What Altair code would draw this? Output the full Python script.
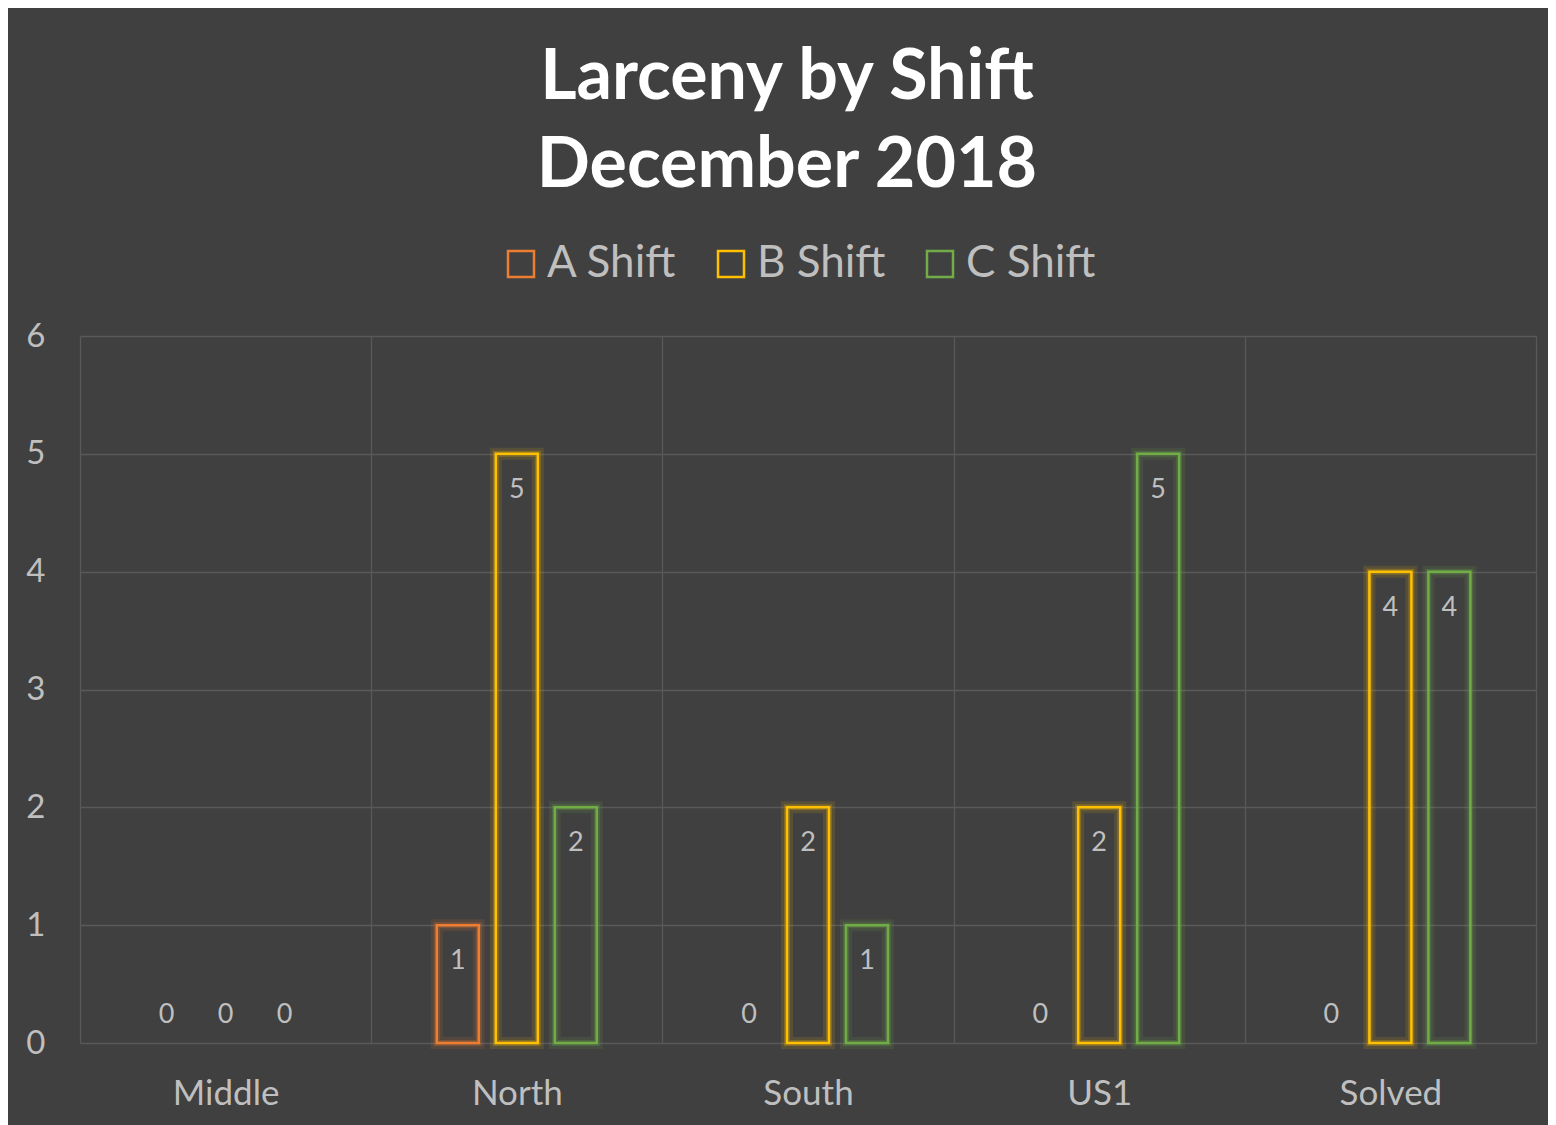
import altair as alt
import pandas as pd

categories = ["Middle", "North", "South", "US1", "Solved"]
shifts = ["A Shift", "B Shift", "C Shift"]
a_shift = [0, 1, 0, 0, 0]
b_shift = [0, 5, 2, 2, 4]
c_shift = [0, 2, 1, 5, 4]
colors = ["#ED7D31", "#FFC000", "#70AD47"]
y_ticks = [0, 1, 2, 3, 4, 5, 6]

rows = []
for s, vals in zip(shifts, [a_shift, b_shift, c_shift]):
    for c, v in zip(categories, vals):
        rows.append({"category": c, "shift": s, "value": v})
df = pd.DataFrame(rows)

FONT = "Lato"
TXT = "#bfbfbf"
GRID = "#595959"
BAR_W = 42

x_enc = alt.X("category:N", sort=categories, title=None,
              scale=alt.Scale(paddingInner=0, paddingOuter=0),
              axis=alt.Axis(labelAngle=0, labelFontSize=35, labelColor=TXT, labelFont=FONT,
                            labelPadding=33, ticks=False, domain=False, grid=True,
                            gridColor=GRID, gridWidth=1.3, tickBand="extent"))
xo_enc = alt.XOffset("shift:N", sort=shifts,
                     scale=alt.Scale(paddingInner=0.064, paddingOuter=1))
y_enc = alt.Y("value:Q", title=None,
              scale=alt.Scale(domain=[0, 6], nice=False),
              axis=alt.Axis(values=y_ticks, labelFontSize=33, labelColor=TXT, labelFont=FONT,
                            labelPadding=35, ticks=False, domain=False, grid=True,
                            gridColor=GRID, gridWidth=1.3))
legend = alt.Legend(orient="none", legendX=419, legendY=-94, title=None,
                    direction="horizontal", symbolType="square",
                    symbolSize=676, symbolStrokeWidth=2.5,
                    symbolFillColor="transparent", symbolOpacity=1,
                    labelFontSize=44, labelColor=TXT, labelFont=FONT,
                    labelOffset=4, columnPadding=32)
stroke_enc = alt.Stroke("shift:N", sort=shifts, title=None,
                        scale=alt.Scale(domain=shifts, range=colors), legend=legend)

base = alt.Chart(df)

glow1 = base.mark_bar(width=BAR_W, fill="transparent", strokeWidth=12, strokeOpacity=0.12).encode(
    x=x_enc, xOffset=xo_enc, y=y_enc, stroke=stroke_enc
).transform_filter("datum.value > 0")
glow2 = base.mark_bar(width=BAR_W, fill="transparent", strokeWidth=6, strokeOpacity=0.25).encode(
    x=x_enc, xOffset=xo_enc, y=y_enc, stroke=stroke_enc
).transform_filter("datum.value > 0")
bars = base.mark_bar(width=BAR_W, fill="transparent", strokeWidth=2.5).encode(
    x=x_enc, xOffset=xo_enc, y=y_enc, stroke=stroke_enc
).transform_filter("datum.value > 0")

labels_pos = base.mark_text(dy=44, baseline="alphabetic", fontSize=27, font=FONT, color=TXT).encode(
    x=x_enc, xOffset=xo_enc, y=y_enc, text="value:Q"
).transform_filter("datum.value > 0")
labels_zero = base.mark_text(dy=-20, baseline="alphabetic", fontSize=27, font=FONT, color=TXT).encode(
    x=x_enc, xOffset=xo_enc, y=y_enc, text="value:Q"
).transform_filter("datum.value == 0")

chart = alt.layer(glow1, glow2, bars, labels_pos, labels_zero).properties(
    width=1456, height=707,
    background="#404040",
    padding={"left": 72, "top": 328, "right": 12, "bottom": 82},
    autosize=alt.AutoSizeParams(type="none"),
    title=alt.TitleParams(["Larceny by Shift", "December 2018"], fontSize=70, font=FONT,
                          fontWeight="bold", color="white", anchor="middle", frame="group",
                          lineHeight=88, dx=-21, offset=40),
).configure_view(stroke=None)

chart.save("out.html", embed_options={"renderer": "svg", "actions": False})
